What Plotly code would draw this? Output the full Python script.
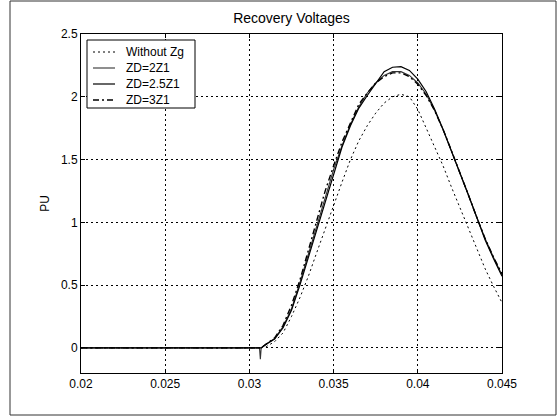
import plotly.graph_objects as go

# time axis (s)
time = [0.0200, 0.0306, 0.03065, 0.0307, 0.0310, 0.0315, 0.0320, 0.0325, 0.0330,
        0.0335, 0.0340, 0.0345, 0.0350, 0.0355, 0.0360, 0.0365, 0.0370,
        0.0375, 0.0380, 0.0385, 0.0390, 0.0395, 0.0400, 0.0405, 0.0410,
        0.0415, 0.0420, 0.0425, 0.0430, 0.0435, 0.0440, 0.0445, 0.0450]

# recovery voltages (PU)
without_zg = [0, 0, 0, 0, 0.01, 0.05, 0.12, 0.25, 0.40,
              0.57, 0.76, 0.95, 1.13, 1.32, 1.50, 1.65, 1.77,
              1.87, 1.95, 2.00, 2.02, 2.00, 1.90, 1.75, 1.60,
              1.45, 1.28, 1.12, 0.96, 0.80, 0.63, 0.49, 0.36]
zd_2z1 = [0, 0, -0.09, 0, 0.03, 0.075, 0.17, 0.31, 0.52,
          0.74, 0.97, 1.20, 1.42, 1.61, 1.78, 1.92, 2.03,
          2.11, 2.17, 2.20, 2.20, 2.17, 2.11, 2.02, 1.89,
          1.74, 1.57, 1.40, 1.22, 1.04, 0.87, 0.72, 0.58]
zd_25z1 = [0, 0, 0, 0, 0.03, 0.07, 0.16, 0.30, 0.50,
           0.72, 0.95, 1.18, 1.40, 1.60, 1.77, 1.91, 2.01,
           2.11, 2.20, 2.235, 2.24, 2.21, 2.14, 2.04, 1.90,
           1.74, 1.57, 1.40, 1.22, 1.04, 0.86, 0.71, 0.57]
zd_3z1 = [0, 0, 0, 0, 0.03, 0.08, 0.18, 0.34, 0.54,
          0.78, 1.01, 1.25, 1.45, 1.64, 1.79, 1.94, 2.03,
          2.11, 2.16, 2.19, 2.19, 2.16, 2.10, 2.01, 1.89,
          1.74, 1.57, 1.40, 1.22, 1.04, 0.87, 0.72, 0.59]

x_ticks = [0.02, 0.025, 0.03, 0.035, 0.04, 0.045]
x_tick_labels = ["0.02", "0.025", "0.03", "0.035", "0.04", "0.045"]
y_ticks = [0, 0.5, 1, 1.5, 2, 2.5]
y_tick_labels = ["0", "0.5", "1", "1.5", "2", "2.5"]

series_names = ["Without Zg", "ZD=2Z1", "ZD=2.5Z1", "ZD=3Z1"]
series_values = [without_zg, zd_2z1, zd_25z1, zd_3z1]
series_lines = [
    dict(color="black", width=1, dash="2px,3px"),
    dict(color="#333333", width=1.1, dash="solid"),
    dict(color="black", width=1.2, dash="solid"),
    dict(color="black", width=1.4, dash="6px,3px,2px,3px"),
]

FONT = "Arial, 'Liberation Sans', Helvetica, sans-serif"

W, H = 559, 418
L, R, T, B = 81, 57, 34, 45
PW, PH = W - L - R, H - T - B


def px(xp):
    return (xp - L) / PW


def py(yp):
    return (H - B - yp) / PH


fig = go.Figure()
for name, vals, line in zip(series_names, series_values, series_lines):
    fig.add_trace(go.Scatter(x=time, y=vals, mode="lines", name=name, line=line,
                             showlegend=False))

axis_common = dict(
    showline=True, linecolor="black", linewidth=1, mirror="ticks",
    ticks="inside", ticklen=4, tickcolor="black",
    showgrid=True, gridcolor="black", gridwidth=1, griddash="2px,3px",
    zeroline=False, tickfont=dict(family=FONT, size=12, color="black"),
)

fig.update_xaxes(range=[0.02, 0.045], tickvals=x_ticks, ticktext=x_tick_labels, **axis_common)
fig.update_yaxes(range=[-0.2, 2.5], tickvals=y_ticks, ticktext=y_tick_labels,
                 title=dict(text="PU", font=dict(family=FONT, size=12, color="black"), standoff=8),
                 **axis_common)

# outer frame + legend box (styling only)
shapes = [
    dict(type="rect", xref="paper", yref="paper",
         x0=px(10), x1=px(556), y0=py(415), y1=py(1),
         line=dict(color="#333333", width=1), layer="below"),
    dict(type="rect", xref="paper", yref="paper",
         x0=px(87), x1=px(195), y0=py(108), y1=py(40),
         line=dict(color="black", width=1), fillcolor="white", layer="above"),
]
annotations = []
for i, (name, line) in enumerate(zip(series_names, series_lines)):
    yy = 52 + 16 * i
    shapes.append(dict(type="line", xref="paper", yref="paper",
                       x0=px(93), x1=px(115), y0=py(yy), y1=py(yy),
                       line=line, layer="above"))
    annotations.append(dict(text=name, xref="paper", yref="paper",
                            x=px(124), y=py(yy), xanchor="left", yanchor="middle",
                            showarrow=False,
                            font=dict(family=FONT, size=12, color="black")))

fig.update_layout(
    width=W, height=H,
    margin=dict(l=L, r=R, t=T, b=B),
    paper_bgcolor="white", plot_bgcolor="white",
    title=dict(text="Recovery Voltages", x=(L + (W - R)) / 2 / W, xanchor="center",
               y=1 - 18 / H, yanchor="middle",
               font=dict(family=FONT, size=14, color="black")),
    showlegend=False,
    shapes=shapes,
    annotations=annotations,
)

fig.write_html("out.html", config={"displayModeBar": False},
               post_script="document.body.style.margin='0';document.body.style.overflow='hidden';")
